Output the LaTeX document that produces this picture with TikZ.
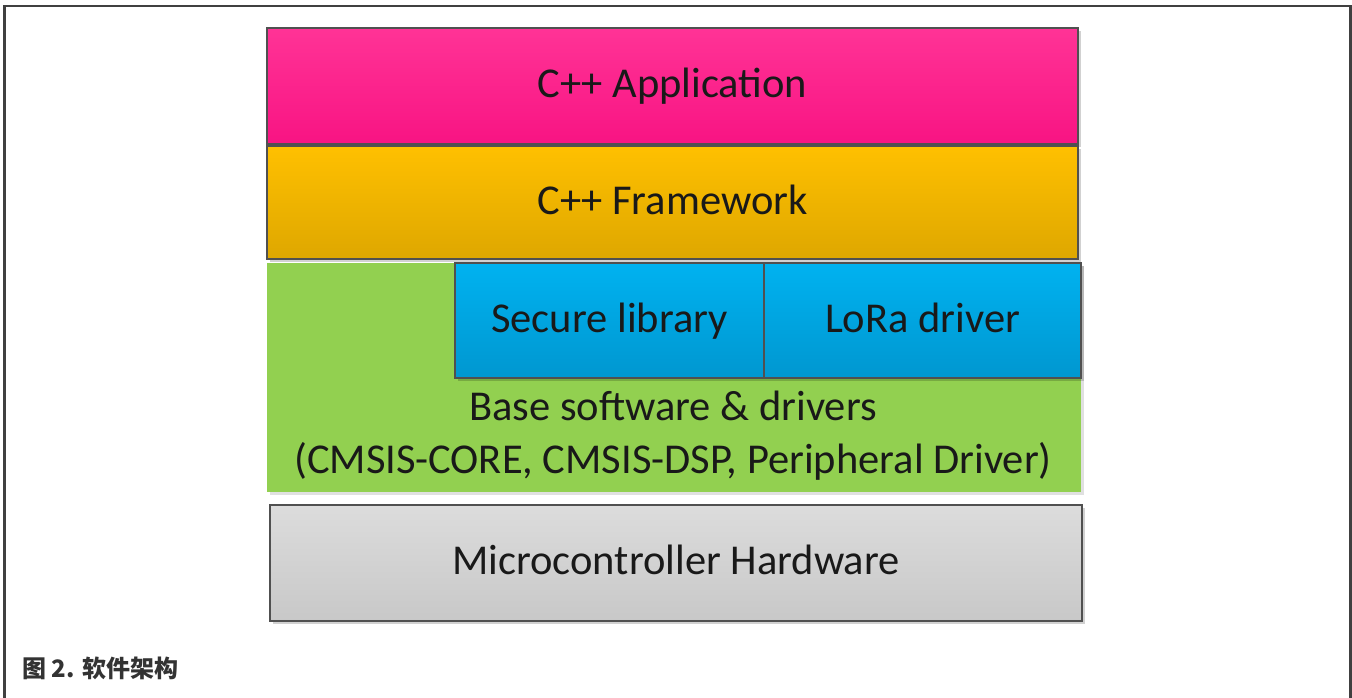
\documentclass[tikz,border=0pt]{standalone}
\usepackage{fontspec}
\setmainfont{Carlito}
\newfontfamily\cjk{Noto Sans CJK SC}
\usetikzlibrary{shadows}

\definecolor{pinkTop}{HTML}{FF3396}
\definecolor{pinkBot}{HTML}{F81483}
\definecolor{orTop}{HTML}{FFC000}
\definecolor{orBot}{HTML}{DEA700}
\definecolor{blTop}{HTML}{00B2F0}
\definecolor{blBot}{HTML}{0097D0}
\definecolor{grn}{HTML}{92D050}
\definecolor{gyTop}{HTML}{DCDCDC}
\definecolor{gyBot}{HTML}{C8C8C8}
\definecolor{edge}{HTML}{505050}
\definecolor{frame}{HTML}{404040}
\definecolor{captxt}{HTML}{333333}

\tikzset{
  layer/.style={rectangle, inner sep=0pt, draw=edge, line width=1.5pt,
    text=black!90, font=\fontsize{42.5}{50}\selectfont,
    text height=28pt, text depth=5pt,
    drop shadow={shadow xshift=3pt, shadow yshift=-3pt, fill=black, opacity=0.18}},
  caption/.style={anchor=west, inner sep=0pt, text=captxt,
    font=\cjk\bfseries\fontsize{24}{28}\selectfont}
}

\begin{document}
\begin{tikzpicture}[x=1pt,y=1pt]
\useasboundingbox (0,0) rectangle (1352,-698);

% outer frame, open at the bottom
\draw[frame, line width=2.5pt] (4.5,-698) -- (4.5,-6) -- (1350.5,-6) -- (1350.5,-698);

% base software layer (green, behind the blue blocks)
\node[rectangle, inner sep=0pt, fill=grn, minimum width=814pt, minimum height=229pt,
      drop shadow={shadow xshift=3pt, shadow yshift=-3pt, fill=black, opacity=0.12}]
      (base) at (674,-377.5) {};
\node[text=black!90, font=\fontsize{42.5}{53}\selectfont, align=center, inner sep=0pt]
      (basetext) at (673,-436) {Base software \& drivers\\(CMSIS-CORE, CMSIS-DSP, Peripheral Driver)};

% application and framework layers
\node[layer, top color=pinkTop, bottom color=pinkBot, minimum width=811pt, minimum height=116pt]
      (app) at (672.5,-86) {C++ Application};
\node[layer, top color=orTop, bottom color=orBot, minimum width=811pt, minimum height=113pt]
      (fw) at (672.5,-202.5) {C++ Framework};

% library blocks
\node[layer, top color=blTop, bottom color=blBot, minimum width=309pt, minimum height=115pt]
      (sec) at (609.5,-320.5) {Secure library};
\node[layer, top color=blTop, bottom color=blBot, minimum width=317pt, minimum height=115pt]
      (lora) at (922.5,-320.5) {LoRa driver};

% hardware layer
\node[layer, top color=gyTop, bottom color=gyBot, minimum width=812pt, minimum height=116pt]
      (hw) at (676,-563) {Microcontroller Hardware};

% caption
\node[caption] (cap) at (22,-668) {图 2. 软件架构};
\end{tikzpicture}
\end{document}
